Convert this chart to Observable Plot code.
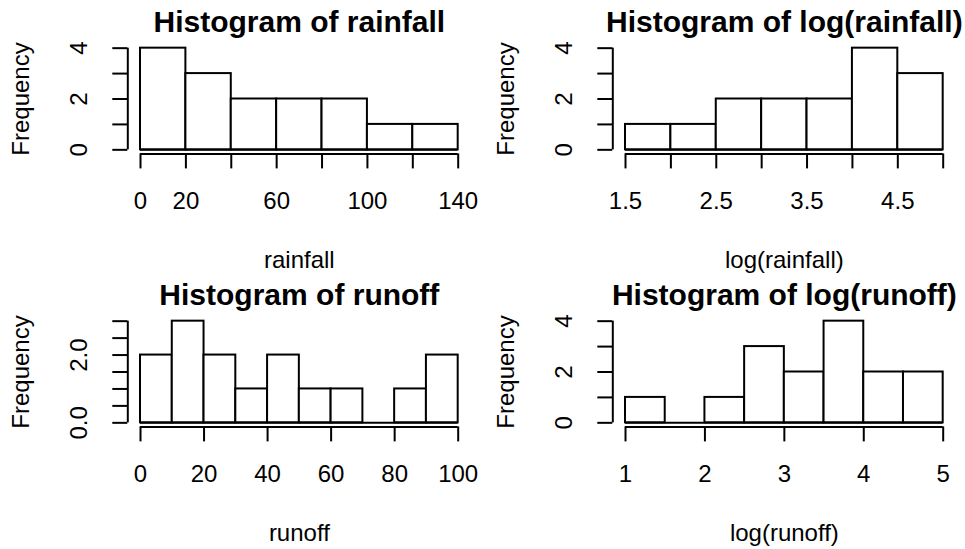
<!DOCTYPE html>
<html>
<head>
<meta charset="utf-8">
<script src="https://cdn.jsdelivr.net/npm/d3@7"></script>
<script src="https://cdn.jsdelivr.net/npm/@observablehq/plot@0.6"></script>
<style>
  body { margin: 0; background: #fff; }
  #chart { position: relative; width: 965px; height: 549px; overflow: hidden; background: #fff; }
  .panel { position: absolute; }
  .panel svg { overflow: visible; }
</style>
</head>
<body>
<div id="chart"></div>
<script>
// ---- Data ----
const rainfallBreaks = [0, 20, 40, 60, 80, 100, 120, 140];
const rainfallCounts = [4, 3, 2, 2, 2, 1, 1];
const rainfallXTicks = [0, 20, 40, 60, 80, 100, 120, 140];
const rainfallXLabels = [0, 20, 60, 100, 140];

const logRainfallBreaks = [1.5, 2, 2.5, 3, 3.5, 4, 4.5, 5];
const logRainfallCounts = [1, 1, 2, 2, 2, 4, 3];
const logRainfallXTicks = [1.5, 2, 2.5, 3, 3.5, 4, 4.5, 5];
const logRainfallXLabels = [1.5, 2.5, 3.5, 4.5];

const runoffBreaks = [0, 10, 20, 30, 40, 50, 60, 70, 80, 90, 100];
const runoffCounts = [2, 3, 2, 1, 2, 1, 1, 0, 1, 2];
const runoffXTicks = [0, 20, 40, 60, 80, 100];
const runoffXLabels = [0, 20, 40, 60, 80, 100];

const logRunoffBreaks = [1, 1.5, 2, 2.5, 3, 3.5, 4, 4.5, 5];
const logRunoffCounts = [1, 0, 1, 3, 2, 4, 2, 2];
const logRunoffXTicks = [1, 2, 3, 4, 5];
const logRunoffXLabels = [1, 2, 3, 4, 5];

const countYTicks = [0, 1, 2, 3, 4];
const countYLabels = ["0", "2", "4"];
const runoffYTicks = [0, 0.5, 1, 1.5, 2, 2.5, 3];
const runoffYLabels = ["0.0", "2.0"];

const titles = ["Histogram of rainfall", "Histogram of log(rainfall)", "Histogram of runoff", "Histogram of log(runoff)"];
const xTitles = ["rainfall", "log(rainfall)", "runoff", "log(runoff)"];
const yTitle = "Frequency";

// ---- Panel builder ----
const FONT = "'Liberation Sans', Arial, Helvetica, sans-serif";

function panel({breaks, counts, xTicks, xLabels, yTicks, yLabels, title, xlab, width, height}) {
  const last = breaks.length - 1;
  const xr = breaks[last] - breaks[0];
  const xDomain = [breaks[0] - 0.04 * xr, breaks[last] + 0.04 * xr];
  const ymax = d3.max(counts);
  const yDomain = [-0.04 * ymax, 1.04 * ymax];
  const bins = counts.map((c, i) => ({x1: breaks[i], x2: breaks[i + 1], y1: 0, y2: c}));
  const yLab = yLabels.map(s => ({y: +s, t: s}));
  const xLab = xLabels.map(v => ({x: v, t: String(v)}));
  const mL = 127.3, frameW = 343.1, mT = 43.6, frameH = 109.8;
  const txt = {textAnchor: "middle", lineAnchor: "middle", fill: "black"};
  return Plot.plot({
    width, height,
    marginLeft: mL,
    marginRight: width - mL - frameW,
    marginTop: mT,
    marginBottom: height - mT - frameH,
    style: {fontFamily: FONT, background: "white", color: "black", overflow: "visible"},
    x: {domain: xDomain, axis: null},
    y: {domain: yDomain, axis: null},
    marks: [
      Plot.rect(bins, {x1: "x1", x2: "x2", y1: "y1", y2: "y2", fill: "white", stroke: "black", strokeWidth: 2}),
      Plot.ruleY([{y: 0, x1: breaks[0], x2: breaks[last]}], {y: "y", x1: "x1", x2: "x2", stroke: "black", strokeWidth: 2}),
      // axis lines
      Plot.ruleY([{y: yDomain[0], x1: xTicks[0], x2: xTicks[xTicks.length - 1]}], {y: "y", x1: "x1", x2: "x2", stroke: "black", strokeWidth: 2}),
      Plot.ruleX([{x: xDomain[0], y1: yTicks[0], y2: yTicks[yTicks.length - 1]}], {x: "x", y1: "y1", y2: "y2", stroke: "black", strokeWidth: 2}),
      // ticks
      Plot.axisX(xTicks, {tickSize: 15, tickFormat: () => "", label: null, strokeWidth: 2, stroke: "black"}),
      Plot.axisY(yTicks, {tickSize: 15, tickFormat: () => "", label: null, strokeWidth: 2, stroke: "black"}),
      // tick labels
      Plot.text(xLab, {x: "x", text: "t", frameAnchor: "bottom", dy: 47.2, fontSize: 24, ...txt}),
      Plot.text(yLab, {y: "y", text: "t", frameAnchor: "left", dx: -48.5, rotate: -90, fontSize: 24, ...txt}),
      // titles
      Plot.text([title], {text: d => d, frameAnchor: "top", dy: -21.5, fontSize: 30, fontWeight: "bold", ...txt}),
      Plot.text([xlab], {text: d => d, frameAnchor: "bottom", dy: 106.9, fontSize: 24, ...txt}),
      Plot.text([yTitle], {text: d => d, frameAnchor: "left", dx: -106.5, rotate: -90, fontSize: 24, ...txt})
    ]
  });
}

const specs = [
  {breaks: rainfallBreaks, counts: rainfallCounts, xTicks: rainfallXTicks, xLabels: rainfallXLabels, yTicks: countYTicks, yLabels: countYLabels, left: 0, top: 0, width: 485, height: 273},
  {breaks: logRainfallBreaks, counts: logRainfallCounts, xTicks: logRainfallXTicks, xLabels: logRainfallXLabels, yTicks: countYTicks, yLabels: countYLabels, left: 485, top: 0, width: 480, height: 273},
  {breaks: runoffBreaks, counts: runoffCounts, xTicks: runoffXTicks, xLabels: runoffXLabels, yTicks: runoffYTicks, yLabels: runoffYLabels, left: 0, top: 273, width: 485, height: 276},
  {breaks: logRunoffBreaks, counts: logRunoffCounts, xTicks: logRunoffXTicks, xLabels: logRunoffXLabels, yTicks: countYTicks, yLabels: countYLabels, left: 485, top: 273, width: 480, height: 276}
];

const chart = document.getElementById("chart");
specs.forEach((s, i) => {
  const div = document.createElement("div");
  div.className = "panel";
  div.style.left = s.left + "px";
  div.style.top = s.top + "px";
  div.appendChild(panel({...s, title: titles[i], xlab: xTitles[i]}));
  chart.appendChild(div);
});
</script>
</body>
</html>
